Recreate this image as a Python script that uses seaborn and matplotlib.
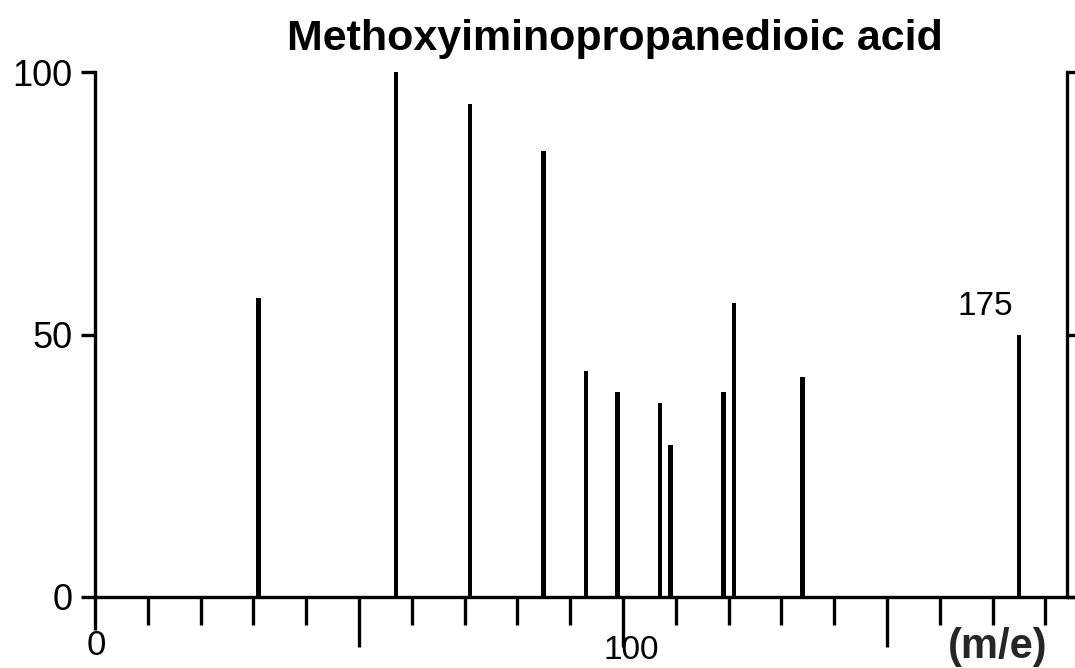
import matplotlib
matplotlib.use("Agg")
import matplotlib.pyplot as plt
import matplotlib.transforms as mtransforms
import seaborn as sns
import pandas as pd

# Mass spectrum of methoxyiminopropanedioic acid (dimethyl ester, M = 175)
mz = [31, 57, 71, 85, 93, 99, 107, 109, 119, 121, 134, 175]
intensity = [57, 100, 94, 85, 43, 39, 37, 29, 39, 56, 42, 50]
title = "Methoxyiminopropanedioic acid"
labelled_peak = 175
x_labels = {0: "0", 100: "100"}

sns.set_style("ticks")
plt.rcParams["font.family"] = ["Liberation Sans", "DejaVu Sans"]
plt.rcParams["text.color"] = "black"
plt.rcParams["xtick.color"] = "black"
plt.rcParams["ytick.color"] = "black"
plt.rcParams["xtick.labelcolor"] = "black"
plt.rcParams["ytick.labelcolor"] = "black"

df = pd.DataFrame({"mz": mz, "intensity": intensity})

fig = plt.figure(figsize=(10.75, 6.68), dpi=100)
ax = fig.add_axes([95 / 1075, 1 - 597 / 668, 980 / 1075, 525 / 668])

sns.barplot(data=df, x="mz", y="intensity", native_scale=True, width=0.45,
            color="black", saturation=1, linewidth=0, errorbar=None, ax=ax)

ax.set_xlim(0, 185.6)
ax.set_ylim(0, 100)

# frame
lw = 2.4
ax.spines["top"].set_visible(False)
ax.spines["left"].set_linewidth(lw)
ax.spines["bottom"].set_linewidth(lw)
ax.spines["right"].set_position(("data", 184))
ax.spines["right"].set_linewidth(lw)
for s in ("left", "bottom", "right"):
    ax.spines[s].set_color("black")

# y ticks
ax.set_yticks([0, 50, 100])
ax.set_yticklabels(["0", "50", "100"])
ax.tick_params(axis="y", left=True, right=True, labelright=False,
               direction="out", length=10, width=lw, labelsize=26, pad=6)

# x ticks: every 10 minor, long at 50/100/150
ax.set_xticks([0, 50, 100, 150])
ax.set_xticklabels([])
ax.set_xticks(range(10, 190, 10), minor=True)
ax.tick_params(axis="x", which="major", direction="out", length=36, width=lw)
ax.tick_params(axis="x", which="minor", direction="out", length=20, width=lw)
ax.xaxis.get_major_ticks()[0].tick1line.set_markersize(24)

# x tick labels sit just under their ticks
xform = ax.get_xaxis_transform()
ax.text(0, (597 - 655) / 525, x_labels[0],
        transform=mtransforms.offset_copy(xform, fig=fig, x=1, units="dots"),
        ha="center", va="baseline", fontsize=25)
ax.text(100, (597 - 659) / 525, x_labels[100],
        transform=mtransforms.offset_copy(xform, fig=fig, x=8, units="dots"),
        ha="center", va="baseline", fontsize=24)

ax.set_ylabel("")
ax.set_xlabel("(m/e)", fontsize=30, fontweight="bold")
ax.xaxis.set_label_coords((998 - 95) / 980, (597 - 647) / 525)
ax.xaxis.label.set_va("center")
ax.xaxis.label.set_ha("center")

# label of the molecular ion peak
ax.annotate(str(labelled_peak), xy=(labelled_peak, intensity[mz.index(labelled_peak)]),
            xytext=(-4, 9), textcoords="offset points", ha="right", va="bottom",
            fontsize=24)

fig.text(615 / 1075, 1 - 50 / 668, title, ha="center", va="baseline",
         fontsize=31, fontweight="bold")

fig.savefig("out.png", dpi=100)
